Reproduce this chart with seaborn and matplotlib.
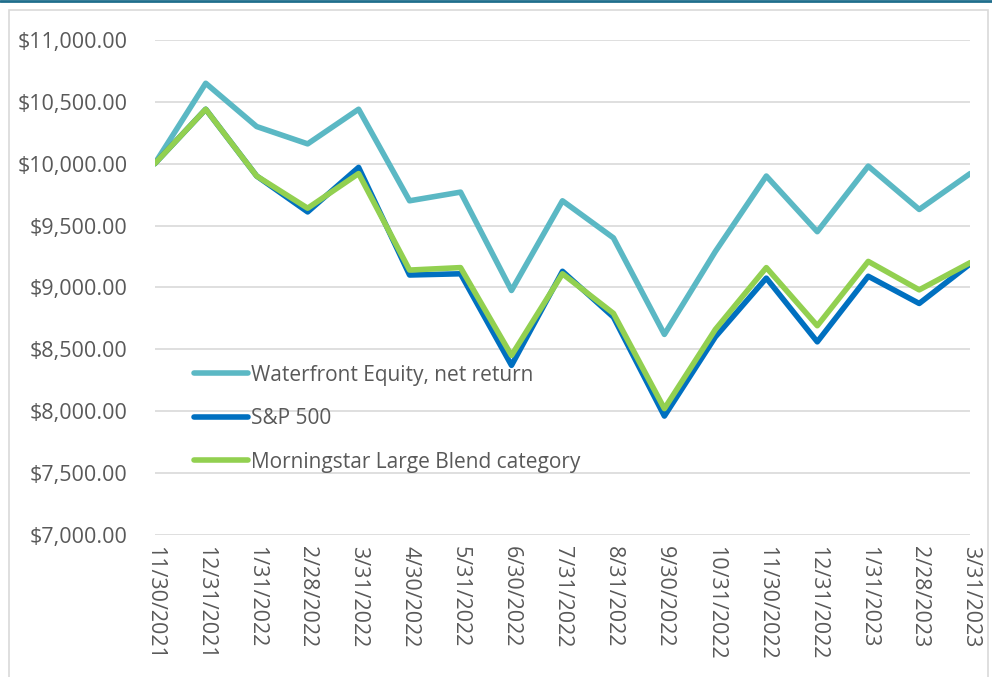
import pandas as pd
import numpy as np
import matplotlib.pyplot as plt
import seaborn as sns
from matplotlib.patches import Rectangle
from matplotlib.lines import Line2D

sns.set_style("white")
plt.rcParams['font.family'] = ['Open Sans', 'DejaVu Sans']

dates = ['11/30/2021', '12/31/2021', '1/31/2022', '2/28/2022', '3/31/2022',
         '4/30/2022', '5/31/2022', '6/30/2022', '7/31/2022', '8/31/2022',
         '9/30/2022', '10/31/2022', '11/30/2022', '12/31/2022', '1/31/2023',
         '2/28/2023', '3/31/2023']

waterfront = [10000, 10650, 10300, 10160, 10440, 9700, 9770, 8975, 9700, 9400,
              8620, 9290, 9900, 9450, 9980, 9630, 9920]
sp500 = [10000, 10440, 9900, 9610, 9970, 9100, 9110, 8370, 9130, 8760,
         7960, 8600, 9075, 8560, 9090, 8870, 9190]
morningstar = [10000, 10440, 9900, 9640, 9920, 9140, 9160, 8450, 9110, 8790,
               8020, 8660, 9160, 8690, 9210, 8980, 9200]

series = ['Waterfront Equity, net return', 'S&P 500', 'Morningstar Large Blend category']
colors = {series[0]: '#5BB8C4', series[1]: '#0070C0', series[2]: '#92D050'}

df = pd.DataFrame({'date': dates, 'pos': range(len(dates)),
                   series[0]: waterfront, series[1]: sp500, series[2]: morningstar})
long_df = df.melt(id_vars=['date', 'pos'], var_name='series', value_name='value')

fig = plt.figure(figsize=(9.92, 6.77), dpi=100)
ax = fig.add_axes([0.156, 0.21, 0.822, 0.731])

# top accent line and chart border
fig.add_artist(Line2D([0, 1], [0.998, 0.998], color='#1F6E8C', lw=2, transform=fig.transFigure))
fig.add_artist(Rectangle((0.009, -0.01), 0.987, 0.995, transform=fig.transFigure,
                         fill=False, edgecolor='#D9D9D9', lw=1.2))

sns.lineplot(data=long_df, x='pos', y='value', hue='series', hue_order=series,
             palette=colors, linewidth=4, ax=ax, legend=False, sort=False)

ax.set_ylim(7000, 11000)
ax.set_xlim(0, len(dates) - 1)
ax.set_yticks(np.arange(7000, 11001, 500))
ax.set_yticklabels(['${:,.2f}'.format(v) for v in np.arange(7000, 11001, 500)])
ax.set_xticks(range(len(dates)))
ax.set_xticklabels(dates, rotation=270)
ax.tick_params(axis='both', colors='#595959', labelsize=15.5, length=0)
ax.tick_params(axis='y', pad=19.5)
ax.tick_params(axis='x', pad=8)
ax.grid(axis='y', color='#D9D9D9', lw=1.2)
ax.set_axisbelow(True)
for s in ax.spines.values():
    s.set_visible(False)
ax.set_xlabel('')
ax.set_ylabel('')

handles = [Line2D([], [], color=colors[s], lw=4, solid_capstyle='round') for s in series]
leg = ax.legend(handles, series, loc='upper left', bbox_to_anchor=(0.025, 0.382),
                frameon=False, fontsize=15, handlelength=2.6, handletextpad=0.12,
                labelspacing=1.08)
for t in leg.get_texts():
    t.set_color('#595959')

fig.savefig('out.png', dpi=100)
